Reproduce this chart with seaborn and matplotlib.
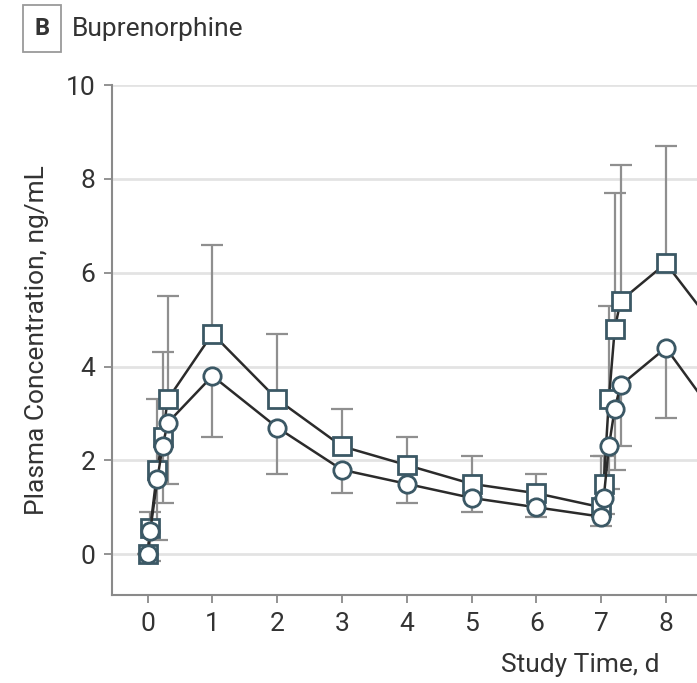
import pandas as pd
import matplotlib
matplotlib.use("Agg")
import matplotlib.pyplot as plt
import seaborn as sns

# values (day, ng/mL)
days = [0, 0.04, 0.15, 0.23, 0.31, 1, 2, 3, 4, 5, 6, 7, 7.04, 7.12, 7.21, 7.3, 8, 9]

square_mean = [0, 0.55, 1.8, 2.5, 3.3, 4.7, 3.3, 2.3, 1.9, 1.5, 1.3, 1.0, 1.5, 3.3, 4.8, 5.4, 6.2, 4.4]
square_upper = [0, 0.9, 3.3, 4.3, 5.5, 6.6, 4.7, 3.1, 2.5, 2.1, 1.7, 2.1, 2.1, 5.3, 7.7, 8.3, 8.7, 6.5]

circle_mean = [0, 0.5, 1.6, 2.3, 2.8, 3.8, 2.7, 1.8, 1.5, 1.2, 1.0, 0.8, 1.2, 2.3, 3.1, 3.6, 4.4, 2.5]
circle_lower = [0, -0.15, 0.3, 1.1, 1.5, 2.5, 1.7, 1.3, 1.1, 0.9, 0.8, 0.6, 0.85, 1.4, 1.8, 2.3, 2.9, 1.5]

y_ticks = [0, 2, 4, 6, 8, 10]
x_ticks = [0, 1, 2, 3, 4, 5, 6, 7, 8]

groups = ["Group 1", "Group 2"]

df = pd.DataFrame({
    "day": days + days,
    "conc": square_mean + circle_mean,
    "group": [groups[0]] * len(days) + [groups[1]] * len(days),
})

sns.set_theme(style="white")
plt.rcParams["font.family"] = ["Roboto", "DejaVu Sans"]

edge = "#3b5865"
line_col = "#2b2b2b"
err_col = "#8f8f8f"
text_col = "#333333"

fig = plt.figure(figsize=(6.97, 6.83), dpi=100)
ax = fig.add_axes([0.1607, 0.1288, 0.8393, 0.7467])

# grid
for y in y_ticks:
    ax.axhline(y, color="#e3e3e3", lw=2, zorder=0)

# one-sided error bars: upper for squares, lower for circles
ax.vlines(days, square_mean, square_upper, color=err_col, lw=1.6, zorder=1)
ax.plot(days, square_upper, ls="none", marker="_", ms=16, mew=1.6, color=err_col, zorder=1)
ax.vlines(days, circle_lower, circle_mean, color=err_col, lw=1.6, zorder=1)
ax.plot(days, circle_lower, ls="none", marker="_", ms=16, mew=1.6, color=err_col, zorder=1)

sns.lineplot(data=df, x="day", y="conc", hue="group", style="group",
             hue_order=groups, style_order=groups,
             palette=[line_col, line_col], markers={groups[0]: "s", groups[1]: "o"},
             dashes=False, sort=False, legend=False, ax=ax,
             linewidth=1.8, markersize=12.5, markerfacecolor="white",
             markeredgecolor=edge, markeredgewidth=2.0, zorder=3)

ax.set_xlim(-0.55, 8.48)
ax.set_ylim(-0.87, 10)
ax.set_xticks(x_ticks)
ax.set_yticks(y_ticks)

for s in ["top", "right"]:
    ax.spines[s].set_visible(False)
for s in ["left", "bottom"]:
    ax.spines[s].set_color("#8a8a8a")
    ax.spines[s].set_linewidth(1.5)

ax.tick_params(axis="both", direction="out", length=6, width=1.3, color="#8a8a8a",
               labelsize=19, labelcolor=text_col, pad=6, left=True, bottom=True)

ax.set_xlabel("Study Time, d", fontsize=19, color=text_col)
ax.xaxis.set_label_coords(0.80, -0.137)
ax.xaxis.label.set_va("center")
ax.set_ylabel("Plasma Concentration, ng/mL", fontsize=19, color=text_col, labelpad=12)

# panel title
fig.text(0.0603, 0.958, "B", fontsize=17, fontweight="bold", color=text_col,
         ha="center", va="center",
         bbox=dict(boxstyle="square,pad=0.5", fc="white", ec="#9a9a9a", lw=1.3))
fig.text(0.103, 0.958, "Buprenorphine", fontsize=19, color=text_col, ha="left", va="center")

fig.savefig("out.png", dpi=100)
plt.close(fig)
